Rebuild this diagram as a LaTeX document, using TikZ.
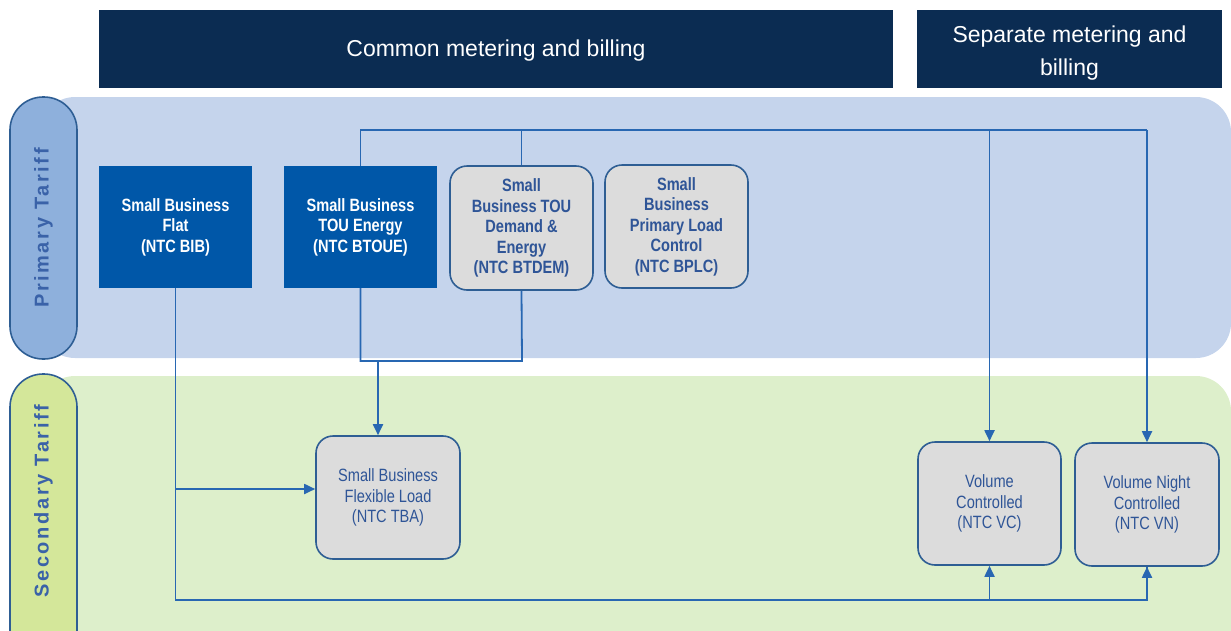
\documentclass[tikz,border=0pt]{standalone}
\usepackage{fontspec}
\setmainfont{Liberation Sans}
\newfontfamily\narrowfont[FakeStretch=0.82]{Liberation Sans}
\usetikzlibrary{arrows.meta}
\definecolor{navy}{HTML}{0B2C52}
\definecolor{bandblue}{HTML}{C5D4EC}
\definecolor{bandgreen}{HTML}{DDEFCB}
\definecolor{pillblue}{HTML}{8EB0DC}
\definecolor{pillgreen}{HTML}{D4E79A}
\definecolor{pilledge}{HTML}{2E5E94}
\definecolor{labelblue}{HTML}{3A62A8}
\definecolor{darkbox}{HTML}{0057A8}
\definecolor{graybox}{HTML}{DCDCDC}
\definecolor{graytext}{HTML}{2F5597}
\definecolor{linecol}{HTML}{2867B2}
\tikzset{
  header/.style={fill=navy, text=white, inner sep=0pt, align=center,
    font=\fontsize{23}{33}\selectfont},
  darkbox/.style={fill=darkbox, text=white, inner sep=0pt, align=center,
    font=\narrowfont\bfseries\fontsize{17.8}{20.5}\selectfont},
  graybox/.style={fill=graybox, draw=pilledge, line width=1.6pt, rounded corners=17pt,
    text=graytext, inner sep=0pt, align=center,
    font=\narrowfont\bfseries\fontsize{17.8}{20.5}\selectfont},
  grayboxlight/.style={graybox, font=\narrowfont\fontsize{17.8}{20.5}\selectfont},
  pill/.style={draw=pilledge, line width=1.6pt, rounded corners=33pt},
  tarifflabel/.style={rotate=90, text=labelblue,
    font=\bfseries\fontsize{20}{24}\selectfont\addfontfeature{LetterSpace=13}},
  conn/.style={draw=linecol, line width=1.8pt},
  arrow/.style={conn, -{Triangle[length=11pt,width=10pt]}},
}
\begin{document}
\begin{tikzpicture}[x=1pt,y=-1pt]
\useasboundingbox (0,0) rectangle (1231,630);
\begin{scope}
\clip (0,0) rectangle (1231,630);
% bands
\fill[bandblue, rounded corners=35pt] (40,97) rectangle (1231,358);
\fill[bandgreen, rounded corners=35pt] (40,376) rectangle (1231,680);
% pills
\draw[pill, fill=pillblue] (10,97) rectangle (77,359);
\draw[pill, fill=pillgreen] (10,374) rectangle (77,680);
\end{scope}
\node[tarifflabel] (ptl) at (43.5,228) {Primary Tariff};
\node[tarifflabel] (stl) at (43.5,501) {Secondary Tariff};
% headers
\node[header, minimum width=794pt, minimum height=78pt] (h1) at (496,49) {};
\node[header] (h1t) at (496,51) {Common metering and billing};
\node[header, minimum width=305pt, minimum height=78pt] (h2) at (1069.5,49) {};
\node[header] (h2t) at (1069.5,53) {Separate metering and\\billing};
% boxes
\node[darkbox, minimum width=153pt, minimum height=122pt] (BIB) at (175.5,227) {Small Business\\Flat\\(NTC BIB)};
\node[darkbox, minimum width=153pt, minimum height=122pt] (BTOUE) at (360.5,227) {Small Business\\TOU Energy\\(NTC BTOUE)};
\node[graybox, minimum width=143pt, minimum height=124pt] (BTDEM) at (521.5,228) {Small\\Business TOU\\Demand \&\\Energy\\(NTC BTDEM)};
\node[graybox, minimum width=143pt, minimum height=123pt] (BPLC) at (676.5,226.5) {Small\\Business\\Primary Load\\Control\\(NTC BPLC)};
\node[grayboxlight, minimum width=144pt, minimum height=123pt] (TBA) at (388,497.5) {Small Business\\Flexible Load\\(NTC TBA)};
\node[grayboxlight, minimum width=143pt, minimum height=123pt] (VC) at (989.5,503.5) {Volume\\Controlled\\(NTC VC)};
\node[grayboxlight, minimum width=144pt, minimum height=123pt] (VN) at (1147,504.5) {Volume Night\\Controlled\\(NTC VN)};
% connectors
\coordinate (topr) at (1147,130);
\coordinate (botl) at (175.5,600);
\coordinate (brk) at (522,361);
\coordinate (tbain) at ([yshift=8.5pt]TBA.west);
\coordinate (tbatop) at ([xshift=-10pt]TBA.north);
\draw[conn] (BTOUE.north) |- (topr);
\draw[conn] (BTDEM.north) -- (BTDEM.north |- topr);
\draw[arrow] (VC.north |- topr) -- (VC.north);
\draw[arrow] (topr) -- (VN.north);
\draw[conn] (BTOUE.south) |- (brk) -- (BTDEM.south);
\draw[arrow] (tbatop |- brk) -- (tbatop);
\draw[conn] (BIB.south) -- (botl) -| (VN.south);
\draw[arrow] (botl -| VN.south) -- (VN.south);
\draw[arrow] (botl -| VC.south) -- (VC.south);
\draw[arrow] (BIB.south |- tbain) -- (tbain);
\end{tikzpicture}
\end{document}
